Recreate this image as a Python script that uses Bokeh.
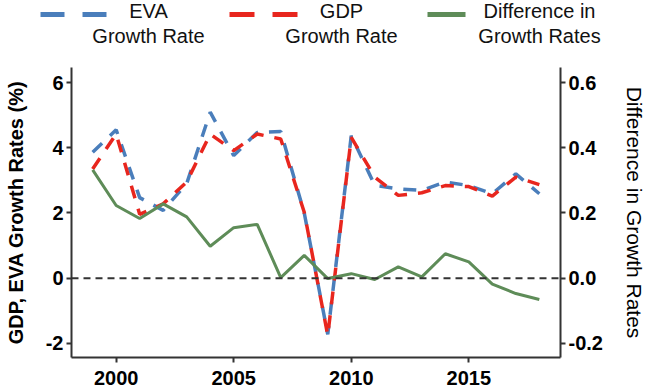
from bokeh.plotting import figure
from bokeh.models import Range1d, LinearAxis, FixedTicker, Span, CustomJSTickFormatter
from bokeh.embed import file_html
from bokeh.resources import INLINE
from bokeh.core.properties import value

# ---------------- data ----------------
years = [1999, 2000, 2001, 2002, 2003, 2004, 2005, 2006, 2007, 2008,
         2009, 2010, 2011, 2012, 2013, 2014, 2015, 2016, 2017, 2018]
eva_growth = [3.86, 4.55, 2.47, 2.08, 2.90, 5.09, 3.76, 4.47, 4.50, 2.00,
              -1.72, 4.37, 2.85, 2.74, 2.69, 2.95, 2.84, 2.59, 3.20, 2.59]
gdp_growth = [3.35, 4.42, 1.96, 2.28, 2.95, 4.42, 3.91, 4.42, 4.27, 2.02,
              -1.75, 4.32, 3.10, 2.54, 2.62, 2.84, 2.81, 2.52, 3.10, 2.87]
diff_growth = [0.332, 0.223, 0.183, 0.228, 0.188, 0.098, 0.155, 0.165, 0.002, 0.070,
               -0.001, 0.014, -0.004, 0.035, 0.004, 0.075, 0.050, -0.018, -0.047, -0.065]

x_ticks = [2000, 2005, 2010, 2015]
left_ticks = [-2, 0, 2, 4, 6]
left_tick_labels = ["-2", "0", "2", "4", "6"]
right_ticks = [-0.2, 0.0, 0.2, 0.4, 0.6]
right_tick_labels = ["-0.2", "0.0", "0.2", "0.4", "0.6"]

legend_line1 = ["EVA", "GDP", "Difference in"]
legend_line2 = ["Growth Rate", "Growth Rate", "Growth Rates"]

left_title = "GDP, EVA Growth Rates (%)"
right_title = "Difference in Growth Rates"

# ---------------- style ----------------
BLUE = "#4a7ebb"
RED = "#e8261e"
GREEN = "#5e8c58"
AXIS = "#333333"
FONT = "Liberation Sans"

LEG_H = 60
W = 648
MAIN_H = 390 - LEG_H

# ---------------- legend figure (separate root, pixel coordinates) ----------------
leg = figure(width=W, height=LEG_H, x_range=Range1d(0, W), y_range=Range1d(0, LEG_H),
             output_backend="svg", toolbar_location=None,
             x_axis_location=None, y_axis_location=None,
             min_border=0, outline_line_color=None)
leg.grid.visible = False

key_y = LEG_H - 14
key_specs = [(40, 106, BLUE, "24 18"), (229, 299, RED, "25 18"), (427, 465, GREEN, "solid")]
for x0, x1, c, d in key_specs:
    leg.line([x0, x1], [key_y, key_y], line_color=c, line_width=5, line_dash=d)

text_x = [148, 341, 539]
leg.text(x=text_x, y=[LEG_H - 10] * 3, text=legend_line1, text_align="center",
         text_baseline="alphabetic", text_font=value(FONT), text_font_size="20px",
         text_color="#111111")
leg.text(x=text_x, y=[LEG_H - 35] * 3, text=legend_line2, text_align="center",
         text_baseline="alphabetic", text_font=value(FONT), text_font_size="20px",
         text_color="#111111")

# ---------------- main figure ----------------
p = figure(width=W, height=MAIN_H, output_backend="svg", toolbar_location=None,
           x_range=Range1d(1998.1, 2018.9), y_range=Range1d(-2.43, 6.46),
           min_border_left=71, min_border_right=W - 561, min_border_top=7, min_border_bottom=33,
           outline_line_color=None)
p.grid.visible = False
p.extra_y_ranges = {"diff": Range1d(-0.243, 0.646)}

fmt_code = """
let best = 0, bd = Infinity;
for (let i = 0; i < tvals.length; i++) {
  const d = Math.abs(tvals[i] - tick);
  if (d < bd) { bd = d; best = i; }
}
return tlabels[best];
"""

def style_axis(ax):
    ax.axis_line_color = AXIS
    ax.axis_line_width = 2
    ax.major_tick_line_color = AXIS
    ax.major_tick_line_width = 2
    ax.major_tick_out = 5
    ax.major_tick_in = 0
    ax.minor_tick_line_color = None
    ax.major_label_text_font = FONT
    ax.major_label_text_font_style = "bold"
    ax.major_label_text_font_size = "20px"
    ax.major_label_text_color = "#000000"
    ax.major_label_standoff = 3
    ax.axis_label_text_font = FONT
    ax.axis_label_text_font_style = "bold"
    ax.axis_label_text_font_size = "20px"
    ax.axis_label_text_color = "#000000"

xa = p.xaxis[0]
xa.ticker = FixedTicker(ticks=x_ticks)
style_axis(xa)
xa.major_label_standoff = 8

ya = p.yaxis[0]
ya.ticker = FixedTicker(ticks=left_ticks)
ya.formatter = CustomJSTickFormatter(args=dict(tvals=left_ticks, tlabels=left_tick_labels), code=fmt_code)
ya.axis_label = left_title
style_axis(ya)
ya.axis_label_standoff = 16

ra = LinearAxis(y_range_name="diff", ticker=FixedTicker(ticks=right_ticks),
                formatter=CustomJSTickFormatter(args=dict(tvals=right_ticks, tlabels=right_tick_labels), code=fmt_code),
                axis_label=right_title)
style_axis(ra)
ra.axis_label_text_font_style = "normal"
ra.axis_label_text_font_size = "21px"
ra.axis_label_standoff = 17
p.add_layout(ra, "right")

# zero line
p.add_layout(Span(location=0, dimension="width", line_color="#333333", line_width=2, line_dash="7 5"))

# series
p.line(years, eva_growth, line_color=BLUE, line_width=3.5, line_dash="13 11")
p.line(years, gdp_growth, line_color=RED, line_width=3.5, line_dash="13 11")
p.line(years, diff_growth, line_color=GREEN, line_width=3, y_range_name="diff")

open("out.html", "w").write(file_html([leg, p], INLINE))
